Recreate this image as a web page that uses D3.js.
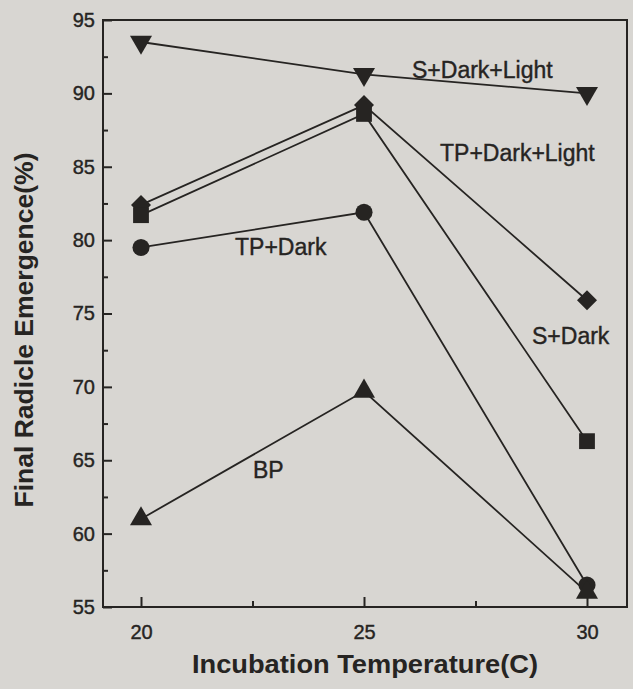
<!DOCTYPE html>
<html>
<head>
<meta charset="utf-8">
<script src="https://cdn.jsdelivr.net/npm/d3@7"></script>
<style>
  html, body { margin: 0; padding: 0; background: #d8d6d2; }
  svg { display: block; font-family: "Liberation Sans", Arial, sans-serif; }
</style>
</head>
<body>
<div id="chart"></div>
<script>
// values
const temps = [20, 25, 30];
const sDarkLight = [93.5, 91.3, 90.0];
const tpDarkLight = [82.4, 89.2, 75.9];
const sDark = [81.7, 88.6, 66.3];
const tpDark = [79.5, 81.9, 56.5];
const bp = [61.0, 69.7, 56.0];

const xTicks = [20, 25, 30];
const xMinor = [22.5, 27.5];
const yTicks = [55, 60, 65, 70, 75, 80, 85, 90, 95];
const yMinor = [57.5, 62.5, 67.5, 72.5, 77.5, 82.5, 87.5, 92.5];

const seriesNames = ["S+Dark+Light", "TP+Dark+Light", "S+Dark", "TP+Dark", "BP"];

const W = 633, H = 689;
const ink = "#262422";
const box = {left: 103, right: 627, top: 20, bottom: 607};

const svg = d3.select("#chart").append("svg")
    .attr("width", W)
    .attr("height", H);

svg.append("rect").attr("width", W).attr("height", H).attr("fill", "#d8d6d2");

const x = d3.scaleLinear().domain([20, 30]).range([141, 587]);
const y = d3.scaleLinear().domain([55, 95]).range([box.bottom, box.top]);

// frame
svg.append("rect")
    .attr("x", box.left).attr("y", box.top)
    .attr("width", box.right - box.left).attr("height", box.bottom - box.top)
    .attr("fill", "none").attr("stroke", ink).attr("stroke-width", 2);

// axes (ticks point inward)
svg.append("g")
    .attr("transform", `translate(${box.left},0)`)
    .call(d3.axisLeft(y).tickValues(yTicks).tickSizeInner(-9).tickSizeOuter(0).tickPadding(8));
svg.append("g")
    .attr("transform", `translate(${box.left},0)`)
    .call(d3.axisLeft(y).tickValues(yMinor).tickSizeInner(-5).tickSizeOuter(0).tickFormat(""));

svg.append("g")
    .attr("transform", `translate(0,${box.bottom})`)
    .call(d3.axisBottom(x).tickValues(xTicks).tickSizeInner(-10).tickSizeOuter(0).tickPadding(18));
svg.append("g")
    .attr("transform", `translate(0,${box.bottom})`)
    .call(d3.axisBottom(x).tickValues(xMinor).tickSizeInner(-6).tickSizeOuter(0).tickFormat(""));

svg.selectAll(".domain").remove();
svg.selectAll(".tick line").attr("stroke", ink).attr("stroke-width", 2);
svg.selectAll(".tick text")
    .attr("fill", ink)
    .attr("stroke", ink).attr("stroke-width", 0.4)
    .style("font-size", "20px")
    .style("font-family", "'Liberation Sans', Arial, sans-serif");

// axis titles
svg.append("text")
    .attr("x", 365).attr("y", 673)
    .attr("text-anchor", "middle")
    .attr("textLength", 346).attr("lengthAdjust", "spacingAndGlyphs")
    .attr("fill", ink)
    .style("font-size", "26px").style("font-weight", "bold")
    .text("Incubation Temperature(C)");

svg.append("text")
    .attr("transform", "translate(33,330) rotate(-90)")
    .attr("text-anchor", "middle")
    .attr("textLength", 355).attr("lengthAdjust", "spacingAndGlyphs")
    .attr("fill", ink)
    .style("font-size", "26px").style("font-weight", "bold")
    .text("Final Radicle Emergence(%)");

// series
const series = [
    {name: seriesNames[0], values: sDarkLight, symbol: d3.symbolTriangle, size: 210, rotate: 180},
    {name: seriesNames[1], values: tpDarkLight, symbol: d3.symbolSquare, size: 200, rotate: 45},
    {name: seriesNames[2], values: sDark, symbol: d3.symbolSquare, size: 250, rotate: 0},
    {name: seriesNames[3], values: tpDark, symbol: d3.symbolCircle, size: 230, rotate: 0},
    {name: seriesNames[4], values: bp, symbol: d3.symbolTriangle, size: 210, rotate: 0}
];

const line = d3.line().x((d, i) => x(temps[i])).y(d => y(d));

svg.append("g").selectAll("path")
    .data(series)
    .join("path")
    .attr("d", d => line(d.values))
    .attr("fill", "none")
    .attr("stroke", ink)
    .attr("stroke-width", 1.8);

series.forEach(s => {
    svg.append("g").selectAll("path")
        .data(s.values)
        .join("path")
        .attr("transform", (d, i) => `translate(${x(temps[i])},${y(d)}) rotate(${s.rotate})`)
        .attr("d", d3.symbol().type(s.symbol).size(s.size))
        .attr("fill", ink);
});

// series labels
const labelPos = [
    {x: 412, y: 78},
    {x: 440, y: 161},
    {x: 532, y: 344},
    {x: 235, y: 255},
    {x: 253, y: 478}
];

svg.append("g").selectAll("text")
    .data(seriesNames)
    .join("text")
    .attr("x", (d, i) => labelPos[i].x)
    .attr("y", (d, i) => labelPos[i].y)
    .attr("fill", ink)
    .attr("stroke", ink).attr("stroke-width", 0.4)
    .style("font-size", "23px")
    .text(d => d);
</script>
</body>
</html>
